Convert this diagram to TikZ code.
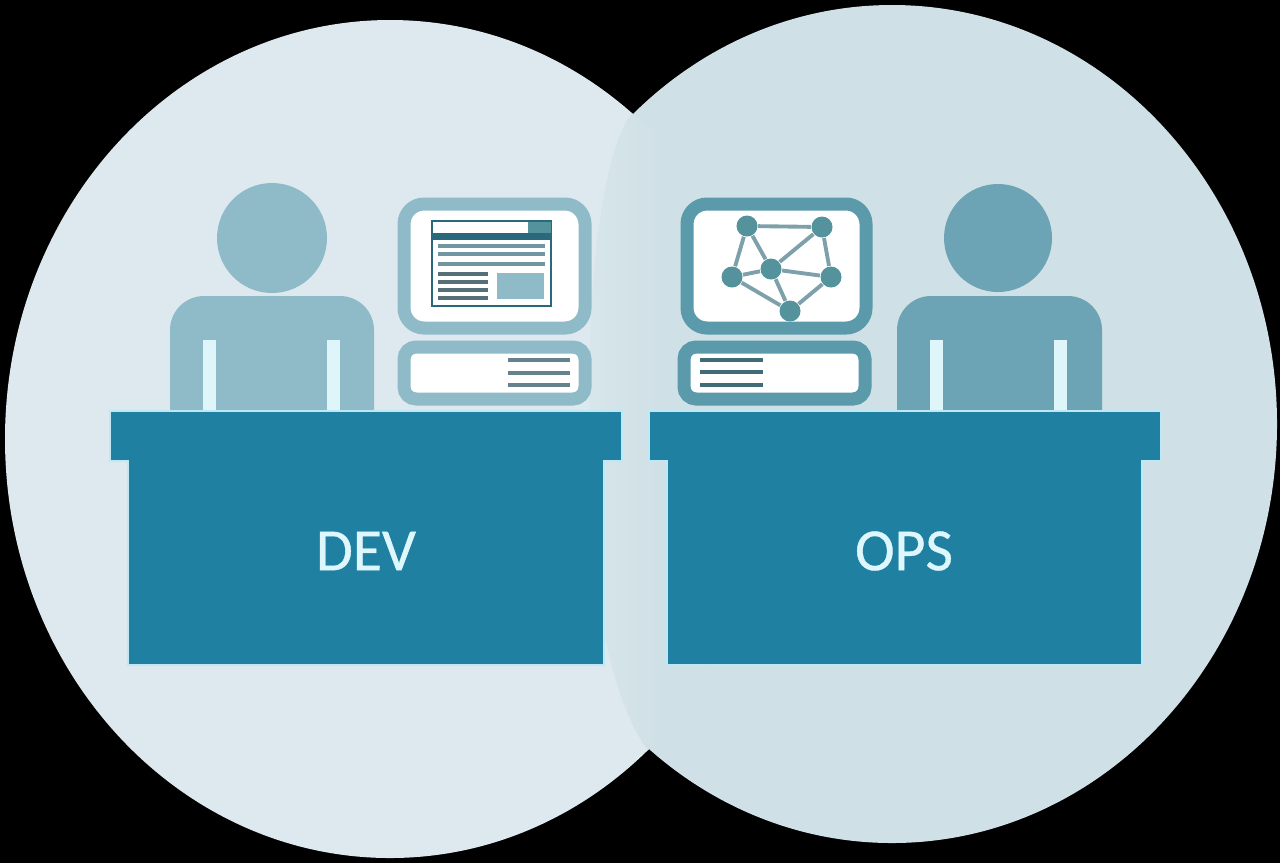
\documentclass[tikz,border=0pt]{standalone}
\usepackage{fontspec}
\setmainfont{Carlito}
\newfontfamily\tagfont[FakeBold=0.6]{Carlito}
\usetikzlibrary{positioning}
\definecolor{deskblue}{RGB}{32,128,161}
\definecolor{devline}{RGB}{143,187,201}
\definecolor{opsline}{RGB}{90,154,170}
\definecolor{opsbody}{RGB}{108,163,181}
\definecolor{hubteal}{RGB}{84,146,156}
\definecolor{spokegray}{RGB}{126,160,170}
\definecolor{titledark}{RGB}{42,104,124}
\definecolor{devdisc}{RGB}{221,233,238}
\definecolor{opsdisc}{RGB}{207,224,230}
\definecolor{lensedge}{RGB}{215,230,235}
\definecolor{labelblue}{RGB}{222,247,252}
\definecolor{slitblue}{RGB}{222,245,250}
\definecolor{rimblue}{RGB}{190,232,243}
\tikzset{
        x=0.01cm, y=-0.01cm,
        desk/.style={fill=deskblue, draw=rimblue, line width=0.7pt}, % pale rim round the desks
        frame/.style={line width=3.7pt, rounded corners=0.2cm, fill=white},
        baseframe/.style={line width=3.7pt, rounded corners=0.12cm, fill=white},
        bar/.style={line width=1.1pt},
        hub/.style={circle, fill=hubteal, inner sep=0pt, minimum size=0.21cm},
        tag/.style={text=labelblue, font=\tagfont\fontsize{17}{20}\selectfont},
}
\begin{document}
\begin{tikzpicture}
\useasboundingbox (0,0) rectangle (1280,863);
\fill[black] (0,0) rectangle (1280,863);
% the two discs
\fill[opsdisc] (892,424) ellipse [x radius=385, y radius=419];
\fill[devdisc] (390,439) ellipse [x radius=385, y radius=419];
\begin{scope}
  \clip (390,439) ellipse [x radius=385, y radius=419];
  \shade[left color=lensedge, right color=opsdisc] (632,113) .. controls (603,150) and (586,280) .. (590,430) .. controls (586,580) and (610,700) .. (648,750) -- (660,750) -- (660,113) -- cycle;
  \fill[opsdisc] (660,113) rectangle (780,750);
\end{scope}

% dev person
\fill[devline] (272,238) circle (55);
\fill[devline] (170,410) -- (170,330) arc[start angle=180, end angle=270, radius=34] -- (340,296) arc[start angle=-90, end angle=0, radius=34] -- (374,410) -- cycle;
\foreach \x in {203,327}
  \fill[slitblue] (\x,340) rectangle (\x+13,410);

% dev computer
\draw[frame, draw=devline] (404,204) rectangle (585,328);
\draw[baseframe, draw=devline] (404,347) rectangle (585,399);
\draw[draw=titledark, line width=0.8pt, fill=white] (432,221) rectangle (551,306);
\fill[titledark] (432,233) rectangle (551,240);
\fill[hubteal] (528,222) rectangle (551,233);
\foreach \y in {246,254,264}
  \draw[bar, devline!80!black] (438,\y) -- (545,\y);
\foreach \y in {274,282,290,298}
  \draw[bar, devline!60!black] (438,\y) -- (488,\y);
\fill[devline] (497,273) rectangle (544,299);
\foreach \y in {360,373,385}
  \draw[bar, devline!70!black] (508,\y) -- (570,\y);

% ops computer
\draw[frame, draw=opsline] (687,204) rectangle (866,328);
\draw[baseframe, draw=opsline] (684,347) rectangle (865,399);
\foreach \y in {360,372,385}
  \draw[bar, opsline!70!black] (700,\y) -- (763,\y);
\node[hub] (hubA) at (747,226) {};
\node[hub] (hubB) at (822,227) {};
\node[hub] (hubC) at (732,277) {};
\node[hub] (hubD) at (771,269) {};
\node[hub] (hubE) at (831,277) {};
\node[hub] (hubF) at (790,311) {};
\foreach \a/\b in {hubA/hubB,hubA/hubC,hubA/hubD,hubB/hubD,hubB/hubE,hubC/hubD,hubD/hubE,hubC/hubF,hubD/hubF,hubE/hubF}
  \draw[bar, spokegray] (\a) -- (\b);

% ops person
\fill[opsbody] (998,238) circle (54);
\fill[opsbody] (897,410) -- (897,330) arc[start angle=180, end angle=270, radius=34] -- (1068,296) arc[start angle=-90, end angle=0, radius=34] -- (1102,410) -- cycle;
\foreach \x in {930,1054}
  \fill[slitblue] (\x,340) rectangle (\x+13,410);

% desks
\draw[desk] (110,411) -- (622,411) -- (622,461) -- (604,461) -- (604,665) -- (128,665) -- (128,461) -- (110,461) -- cycle;
\draw[desk] (649,411) -- (1161,411) -- (1161,461) -- (1142,461) -- (1142,665) -- (667,665) -- (667,461) -- (649,461) -- cycle;
\node[tag] (devlabel) at (366,551) {DEV};
\node[tag] (opslabel) at (904,551) {OPS};
\end{tikzpicture}
\end{document}
